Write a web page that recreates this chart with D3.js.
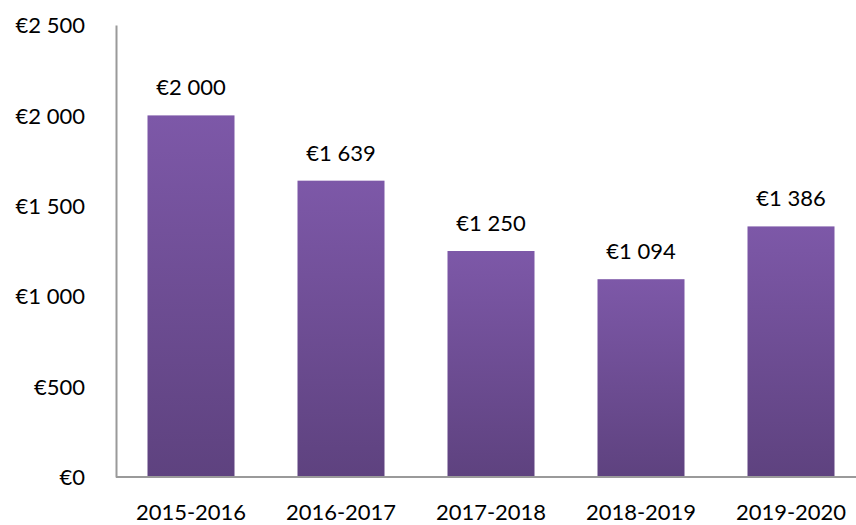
<!DOCTYPE html>
<html>
<head>
<meta charset="utf-8">
<style>
  body { margin: 0; background: #fff; }
  text { font-family: Lato, "Open Sans", sans-serif; fill: #000; }
  .axis path, .axis line { stroke: #9a9a9a; }
</style>
</head>
<body>
<svg id="chart" width="856" height="525"></svg>
<script src="https://cdnjs.cloudflare.com/ajax/libs/d3/7.8.5/d3.min.js"></script>
<script>
var seasons = ["2015-2016", "2016-2017", "2017-2018", "2018-2019", "2019-2020"];
var amounts = [2000, 1639, 1250, 1094, 1386];
var yTicks = [0, 500, 1000, 1500, 2000, 2500];

var svg = d3.select("#chart");
var mLeft = 116, mRight = 866, mTop = 25, mBottom = 477;

var x = d3.scaleBand().domain(seasons).range([mLeft, mRight]).paddingInner(0.42).paddingOuter(0.21);
var y = d3.scaleLinear().domain([0, 2500]).range([mBottom, mTop]);

// euro format with space as thousands separator
var euro = function(v) {
  return "€" + d3.format(",")(v).replace(/,/g, " ");
};

var grad = svg.append("defs").append("linearGradient")
  .attr("id", "barFill").attr("x1", 0).attr("y1", 0).attr("x2", 0).attr("y2", 1);
grad.append("stop").attr("offset", "0%").attr("stop-color", "#7d58a8");
grad.append("stop").attr("offset", "100%").attr("stop-color", "#5e427f");

svg.selectAll("rect.bar")
  .data(amounts).enter()
  .append("rect")
    .attr("class", "bar")
    .attr("x", (d, i) => x(seasons[i]))
    .attr("y", d => y(d))
    .attr("width", x.bandwidth())
    .attr("height", d => mBottom - y(d))
    .style("fill", "url(#barFill)");

svg.selectAll("text.val")
  .data(amounts).enter()
  .append("text")
    .attr("class", "val")
    .attr("x", (d, i) => x(seasons[i]) + x.bandwidth() / 2)
    .attr("y", d => y(d) - 20)
    .attr("text-anchor", "middle")
    .style("font-size", "22px")
    .text(euro);

// y axis
var yAxis = d3.axisLeft(y).tickValues(yTicks).tickSize(0).tickPadding(31).tickFormat(euro);
var gy = svg.append("g").attr("class", "axis").attr("transform", "translate(" + mLeft + ",0)").call(yAxis);
gy.select("path.domain").attr("stroke-width", 2);
gy.selectAll("text").style("font-size", "22px").attr("dy", "0.35em");

// x axis
var xAxis = d3.axisBottom(x).tickSize(0).tickPadding(27);
var gx = svg.append("g").attr("class", "axis").attr("transform", "translate(0," + mBottom + ")").call(xAxis);
gx.select("path.domain").attr("d", "M" + mLeft + ",0H856").attr("stroke-width", 2);
gx.selectAll("text").style("font-size", "22px");
</script>
</body>
</html>
